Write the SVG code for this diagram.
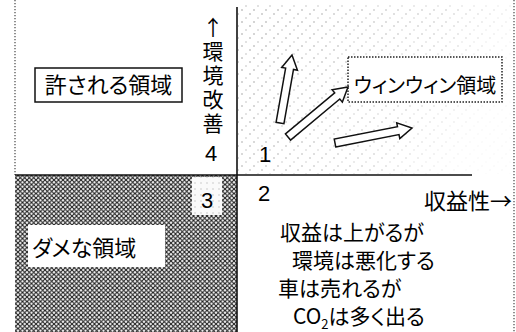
<svg xmlns="http://www.w3.org/2000/svg" width="516" height="332" viewBox="0 0 516 332">
  <style>
    .jp { font-family: "Noto Sans CJK JP", "Noto Sans", sans-serif; fill: #000; font-feature-settings: "palt"; }
    .num { font-family: "Liberation Sans", Arial, sans-serif; fill: #000; }
    .axis { stroke: #111; stroke-width: 1.6; fill: none; }
    .dotted { stroke: #555; stroke-width: 1.3; stroke-dasharray: 1.3 1.7; fill: none; }
    .blk { fill: #fff; stroke: #111; stroke-width: 1.5; stroke-linejoin: miter; }
    .vert { writing-mode: vertical-rl; text-orientation: upright; letter-spacing: 3px; font-feature-settings: normal; }
  </style>
  <defs>
    <pattern id="xhatch" width="4.5" height="4.5" patternUnits="userSpaceOnUse">
      <rect width="4.5" height="4.5" fill="#fff"/>
      <path d="M0,0 L4.5,4.5 M4.5,0 L0,4.5" stroke="#1a1a1a" stroke-width="1.1"/>
    </pattern>
    <pattern id="lightdots" width="12" height="12" patternUnits="userSpaceOnUse">
      <rect width="12" height="12" fill="#fff"/>
      <circle cx="2" cy="10" r="0.8" fill="#999"/>
      <circle cx="6" cy="6" r="0.7" fill="#aaa"/>
      <circle cx="10" cy="2" r="0.8" fill="#999"/>
    </pattern>
    <pattern id="faintdots" width="6" height="6" patternUnits="userSpaceOnUse">
      <rect width="6" height="6" fill="#fafafa"/>
      <circle cx="3" cy="3" r="0.7" fill="#bbb"/>
    </pattern>
    <linearGradient id="fade" x1="0" y1="0" x2="1" y2="0.3">
      <stop offset="0" stop-color="#fff" stop-opacity="1"/>
      <stop offset="0.7" stop-color="#fff" stop-opacity="0.6"/>
      <stop offset="1" stop-color="#fff" stop-opacity="0.1"/>
    </linearGradient>
    <mask id="fadeMask">
      <rect x="237" y="0" width="279" height="175" fill="url(#fade)"/>
    </mask>
  </defs>

  <rect width="516" height="332" fill="#fff"/>

  <g id="quadrant-top-right">
    <rect x="238" y="5" width="276" height="169" fill="url(#lightdots)" mask="url(#fadeMask)"/>
  </g>

  <g id="quadrant-bottom-left">
    <rect x="15" y="175" width="222" height="157" fill="url(#xhatch)"/>
    <rect x="192" y="177" width="30" height="38" fill="url(#faintdots)"/>
    <text class="num" x="207" y="208" font-size="22" text-anchor="middle">3</text>
  </g>

  <g id="frame">
    <line class="dotted" x1="15" y1="0" x2="15" y2="175"/>
    <line class="dotted" x1="514" y1="0" x2="514" y2="332"/>
    <line class="axis" x1="237" y1="7" x2="237" y2="332"/>
    <line class="axis" x1="15" y1="175" x2="472" y2="175"/>
  </g>

  <g id="label-allowed">
    <rect x="35" y="68" width="147" height="34" fill="#fff" stroke="#111" stroke-width="1.5"/>
    <text class="jp" x="108.5" y="93" font-size="22" text-anchor="middle">許される領域</text>
  </g>

  <g id="axis-env">
    <text class="jp vert" x="213" y="17" font-size="21">↑環境改善</text>
    <text class="num" x="211" y="161" font-size="22" text-anchor="middle">4</text>
  </g>

  <g id="label-1">
    <text class="num" x="265" y="162" font-size="22" text-anchor="middle">1</text>
  </g>

  <g id="label-winwin">
    <rect x="348" y="57" width="154" height="45" fill="#fff" stroke="#222" stroke-width="1.5" stroke-dasharray="1.5 1.5"/>
    <text class="jp" x="425" y="93" font-size="20" text-anchor="middle">ウィンウィン領域</text>
  </g>

  <g id="connectors">
    <polygon class="blk" points="283.94,123.70 293.51,69.49 297.45,70.18 292,55 281.69,67.40 285.63,68.09 276.06,122.30"/>
    <polygon class="blk" points="290.56,140.07 339.81,99.03 342.37,102.11 348,87 332.13,89.81 334.69,92.89 285.44,133.93"/>
    <polygon class="blk" points="335.76,146.93 399.02,134.61 399.79,138.53 412,128 396.73,122.83 397.50,126.75 334.24,139.07"/>
  </g>

  <g id="label-2">
    <text class="num" x="264" y="201" font-size="22" text-anchor="middle">2</text>
  </g>

  <g id="axis-profit">
    <text class="jp" x="512" y="209" font-size="22" text-anchor="end">収益性→</text>
  </g>

  <g id="label-bad">
    <rect x="28" y="225" width="137" height="42" fill="#fff"/>
    <text class="jp" x="32" y="256" font-size="22">ダメな領域</text>
  </g>

  <g id="note-bottom-right">
    <text class="jp" x="280" y="240" font-size="21">収益は上がるが</text>
    <text class="jp" x="292" y="268" font-size="21">環境は悪化する</text>
    <text class="jp" x="278" y="296" font-size="21">車は売れるが</text>
    <text class="jp" x="293" y="324" font-size="21">CO<tspan font-size="13" dy="5">2</tspan><tspan dy="-5">は多く出る</tspan></text>
  </g>
</svg>
